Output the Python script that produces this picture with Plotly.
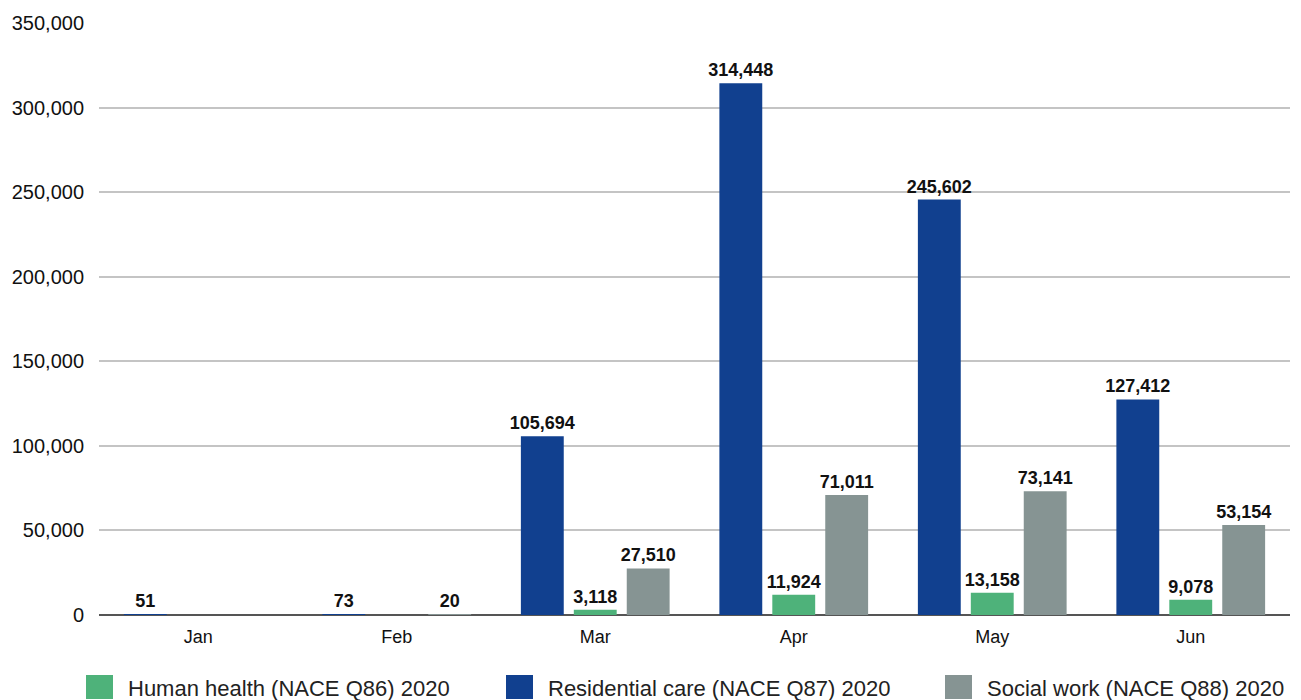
import plotly.graph_objects as go

months = ["Jan", "Feb", "Mar", "Apr", "May", "Jun"]

residential_care = [51, 73, 105694, 314448, 245602, 127412]
human_health = [0, 0, 3118, 11924, 13158, 9078]
social_work = [0, 20, 27510, 71011, 73141, 53154]

series_names = [
    "Human health (NACE Q86) 2020",
    "Residential care (NACE Q87) 2020",
    "Social work (NACE Q88) 2020",
]

BLUE = "#11408F"
GREEN = "#4EB27A"
GREY = "#869493"
FONT = "Liberation Sans, Arial, sans-serif"


def labels(values):
    return [f"<b>{v:,}</b>" if v else "" for v in values]


fig = go.Figure()
for name, vals, col in [
    (series_names[1], residential_care, BLUE),
    (series_names[0], human_health, GREEN),
    (series_names[2], social_work, GREY),
]:
    fig.add_trace(go.Bar(
        x=months, y=vals, name=name, marker=dict(color=col, line=dict(width=0)),
        text=labels(vals), texttemplate="%{text}", textposition="outside",
        constraintext="none",
        textfont=dict(family=FONT, size=18, color="#111111"),
        cliponaxis=False, showlegend=False,
    ))

# legend drawn as coloured squares with text beside them
legend_items = [
    (series_names[0], GREEN, 86),
    (series_names[1], BLUE, 506),
    (series_names[2], GREY, 945),
]
W, H = 1301, 700
ml, mr, mt, mb = 99, 11, 23, 85
pw, ph = W - ml - mr, H - mt - mb
shapes = []
annotations = []
for name, col, px in legend_items:
    x0 = (px - ml) / pw
    x1 = (px + 27 - ml) / pw
    y0 = (H - mb - 699) / ph
    y1 = (H - mb - 675) / ph
    shapes.append(dict(type="rect", xref="paper", yref="paper", x0=x0, x1=x1,
                       y0=y0, y1=y1, fillcolor=col, line=dict(width=0)))
    annotations.append(dict(xref="paper", yref="paper", x=(px + 40 - ml) / pw,
                            y=(H - mb - 688) / ph, text=name, showarrow=False,
                            xanchor="left", yanchor="middle",
                            font=dict(family=FONT, size=22, color="#222222")))

fig.update_layout(
    width=W, height=H,
    margin=dict(l=ml, r=mr, t=mt, b=mb),
    paper_bgcolor="white", plot_bgcolor="white",
    barmode="group", bargap=0.2, bargroupgap=0.19,
    font=dict(family=FONT, size=17, color="#111111"),
    shapes=shapes, annotations=annotations,
    showlegend=False,
    xaxis=dict(showgrid=False, showline=False, ticks="", tickfont=dict(size=18),
               ticklabelstandoff=9),
    yaxis=dict(range=[0, 350000], dtick=50000, tickformat=",", showgrid=True,
               gridcolor="#C4C4C4", gridwidth=1.5, zeroline=True,
               zerolinecolor="#555555", zerolinewidth=1.5, showline=False,
               ticks="", tickfont=dict(size=20), ticklabelstandoff=14),
)

fig.write_html("out.html")
